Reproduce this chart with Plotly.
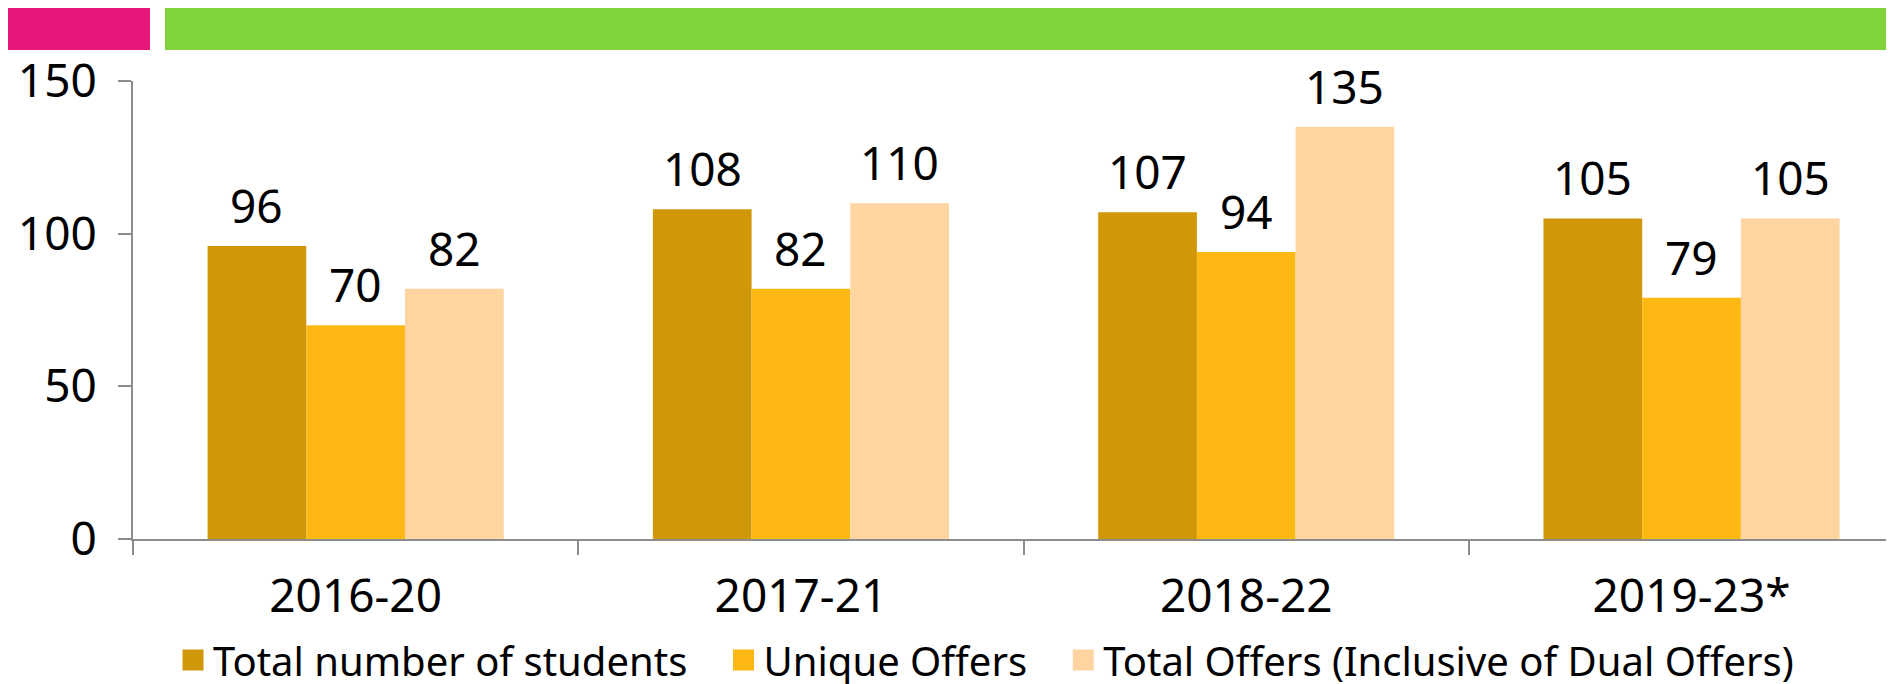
import plotly.graph_objects as go

periods = ['2016-20', '2017-21', '2018-22', '2019-23*']
total_students = [96, 108, 107, 105]
unique_offers = [70, 82, 94, 79]
total_offers = [82, 110, 135, 105]

series = [
    ('Total number of students', total_students, '#D09709'),
    ('Unique Offers', unique_offers, '#FDB813'),
    ('Total Offers (Inclusive of Dual Offers)', total_offers, '#FED5A1'),
]

W, H = 1894, 684
OFF = 8  # page body margin shifts the figure
left, top, bottom = 133 - OFF, 81 - OFF, 539 - OFF
BARGAP = 0.335
cat_px = 445.3
bar_px = cat_px * (1 - BARGAP) / 3

FONT = 'Noto Sans'

fig = go.Figure()
for i, (name, vals, color) in enumerate(series):
    fig.add_trace(go.Bar(
        x=periods, y=vals, name=name, showlegend=False,
        marker=dict(color=color, line=dict(width=0)),
    ))
    # legend entry with a bigger square swatch
    label = name + ('\u00a0\u00a0\u00a0' if i < 2 else '')
    fig.add_trace(go.Scatter(
        x=[None], y=[None], name=label, mode='markers',
        marker=dict(symbol='square', size=16, color=color,
                    line=dict(color=color, width=5)),
    ))
    for p, v in zip(periods, vals):
        fig.add_annotation(x=p, y=v, xref='x', yref='y', text=str(v), showarrow=False,
                           xshift=(i - 1) * bar_px, yanchor='bottom', yshift=8,
                           font=dict(size=46, color='black', family=FONT))


def px(x):
    return (x - OFF - left) / (W - left)


def py(y):
    return (bottom - (y - OFF)) / (bottom - top)


# header bars
fig.add_shape(type='rect', xref='paper', yref='paper', x0=px(0), x1=px(150),
              y0=py(50), y1=py(2), fillcolor='#E8177A', line=dict(width=0))
fig.add_shape(type='rect', xref='paper', yref='paper', x0=px(165), x1=px(1900),
              y0=py(50), y1=py(2), fillcolor='#80D33C', line=dict(width=0))

fig.update_layout(
    width=W, height=H,
    margin=dict(l=left, r=0, t=top, b=H - bottom, pad=0, autoexpand=False),
    plot_bgcolor='white', paper_bgcolor='white',
    barmode='group', bargap=BARGAP, bargroupgap=0,
    font=dict(family=FONT, color='black'),
    showlegend=True,
    legend=dict(orientation='h', x=px(986), xanchor='center', y=py(660), yanchor='middle',
                font=dict(size=40), itemsizing='trace', traceorder='normal',
                itemwidth=30),
    xaxis=dict(range=[-0.5, -0.5 + (W - left) / cat_px], showline=True,
               linecolor='#8c8c8c', linewidth=2,
               ticks='outside', tickson='boundaries', ticklen=14, tickcolor='#8c8c8c',
               tickwidth=2, tickfont=dict(size=46), showgrid=False, automargin=False,
               ticklabelstandoff=16),
    yaxis=dict(range=[0, 150], tickvals=[0, 50, 100, 150], showline=True,
               linecolor='#8c8c8c', linewidth=2, ticks='outside', ticklen=13,
               tickcolor='#8c8c8c', tickwidth=2, tickfont=dict(size=46),
               showgrid=False, zeroline=False, ticklabelstandoff=12, automargin=False),
)

fig.write_html('out.html')
